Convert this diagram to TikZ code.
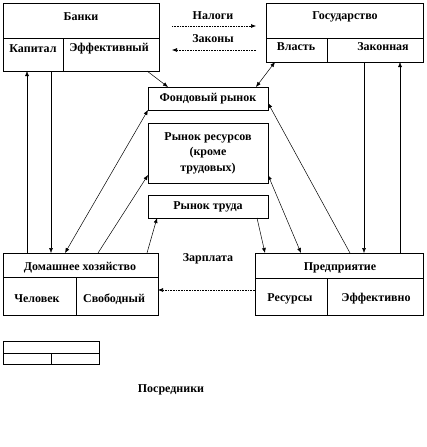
\documentclass[tikz,border=0pt]{standalone}
\usepackage{fontspec}
\setmainfont{Liberation Serif}
\usetikzlibrary{arrows.meta}
\begin{document}
\begin{tikzpicture}[x=1pt,y=-1pt,
  box/.style={draw=black,line width=0.8pt,inner sep=0pt,outer sep=0pt},
  lbl/.style={font=\fontsize{12}{15.5}\selectfont\bfseries,inner sep=0pt},
  div/.style={line width=0.6pt},
  con/.style={line width=0.5pt},
  tip/.style={-{Latex[length=5pt,width=4pt]}},
  btip/.style={{Latex[length=5pt,width=4pt]}-{Latex[length=5pt,width=4pt]}},
  dots/.style={line width=0.6pt,densely dotted}]
\useasboundingbox (0,0) rectangle (426,447);
% boxes
\node[box,minimum width=156pt,minimum height=68pt] (bank) at (81,37) {};
\node[box,minimum width=157pt,minimum height=59pt] (gov) at (344.5,32.5) {};
\node[box,minimum width=120pt,minimum height=23pt] (fond) at (208,98.5) {};
\node[box,minimum width=120pt,minimum height=60pt] (res) at (208,153) {};
\node[box,minimum width=120pt,minimum height=23pt] (trud) at (208,206.5) {};
\node[box,minimum width=155pt,minimum height=62pt] (home) at (80.5,284) {};
\node[box,minimum width=168pt,minimum height=62pt] (ent) at (339,284) {};
\node[box,minimum width=96pt,minimum height=23pt] (leg) at (51,352.5) {};
% dividers
\draw[div] (bank.west |- 0,38) -- (bank.east |- 0,38);
\draw[div] (63,38) -- (63,0 |- bank.south);
\draw[div] (gov.west |- 0,38) -- (gov.east |- 0,38);
\draw[div] (327,38) -- (327,0 |- gov.south);
\draw[div] (home.west |- 0,277) -- (home.east |- 0,277);
\draw[div] (76,277) -- (76,0 |- home.south);
\draw[div] (ent.west |- 0,278) -- (ent.east |- 0,278);
\draw[div] (327,278) -- (327,0 |- ent.south);
\draw[div] (leg.west |- 0,353) -- (leg.east |- 0,353);
\draw[div] (51,353) -- (51,0 |- leg.south);
% texts
\node[lbl] (tbank) at (81,17) {Банки};
\node[lbl] (tkap) at (33,49) {Капитал};
\node[lbl] (teff) at (109,49) {Эффективный};
\node[lbl] (tgov) at (345,17) {Государство};
\node[lbl] (tvl) at (296,47) {Власть};
\node[lbl] (tzak) at (383,47) {Законная};
\node[lbl] (tnal) at (213,16) {Налоги};
\node[lbl] (tzkn) at (213,39) {Законы};
\node[lbl] (tfond) at (fond) {Фондовый рынок};
\node[lbl,align=center] (tres) at (res) {Рынок ресурсов\\(кроме\\трудовых)};
\node[lbl] (ttrud) at (trud) {Рынок труда};
\node[lbl] (thome) at (80,268) {Домашнее хозяйство};
\node[lbl] (tchel) at (37,299) {Человек};
\node[lbl] (tsvob) at (114,299) {Свободный};
\node[lbl] (tent) at (340,268) {Предприятие};
\node[lbl] (tress) at (290,299) {Ресурсы};
\node[lbl] (teffk) at (376,299) {Эффективно};
\node[lbl] (tzar) at (208,259) {Зарплата};
\node[lbl] (tpos) at (171,390) {Посредники};
% tax / law arrows
\coordinate (n1) at (172,26);
\coordinate (n2) at (256,26);
\coordinate (z1) at (256,50);
\coordinate (z2) at (172,50);
\draw[dots,tip] (n1) -- (n2);
\draw[dots,tip] (z1) -- (z2);
% connectors
\draw[con,tip] (147,0 |- bank.south) -- (168,0 |- fond.north);
\draw[con,btip] (275,0 |- gov.south) -- (256,0 |- fond.north);
\draw[con,tip] (27,0 |- home.north) -- (27,0 |- bank.south);
\draw[con,tip] (51,0 |- bank.south) -- (51,0 |- home.north);
\draw[con,tip] (364,0 |- gov.south) -- (364,0 |- ent.north);
\draw[con,tip] (400,0 |- ent.north) -- (400,0 |- gov.south);
\draw[con,btip] (65,0 |- home.north) -- (fond.south west);
\draw[con,tip] (98,0 |- home.north) -- (res.west |- 0,175);
\draw[con,tip] (147,0 |- home.north) -- (157,0 |- trud.south);
\draw[con,tip] (350,0 |- ent.north) -- (fond.east |- 0,103);
\draw[con,btip] (res.east |- 0,175) -- (301,0 |- ent.north);
\draw[con,tip] (257,0 |- trud.south) -- (265,0 |- ent.north);
\draw[dots,tip] (ent.west |- 0,290) -- (home.east |- 0,290);
\end{tikzpicture}
\end{document}
